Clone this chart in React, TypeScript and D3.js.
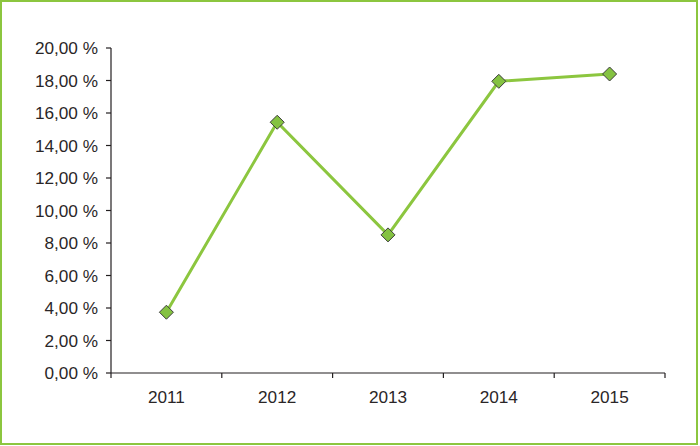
import React from "react";
import * as d3 from "d3";

const years = ["2011", "2012", "2013", "2014", "2015"];
const values = [3.74, 15.43, 8.5, 17.95, 18.4];
const yTicks = [0, 2, 4, 6, 8, 10, 12, 14, 16, 18, 20];

export default function App() {
  const W = 700, H = 446;
  const left = 111, right = 665, top = 48, bottom = 373;
  const x = d3.scaleBand().domain(years).range([left, right]);
  const y = d3.scaleLinear().domain([0, 20]).range([bottom, top]);
  const line = d3
    .line<number>()
    .x((_, i) => (x(years[i]) as number) + x.bandwidth() / 2)
    .y((d) => y(d));
  const font = "'Liberation Sans', Arial, Helvetica, sans-serif";
  const fmt = (v: number) => v.toFixed(2).replace(".", ",") + " %";
  const boundaries = [left, ...years.map((yr) => (x(yr) as number) + x.bandwidth())];
  return (
    <svg width={W} height={H} style={{ position: "absolute", left: 0, top: 0 }}>
      <rect x={1} y={1} width={696} height={443} fill="white" stroke="#8cc63f" strokeWidth={2} />
      <g fontFamily={font} fontSize={17.2} fill="#2a2627">
        {yTicks.map((t) => (
          <g key={t}>
            <line x1={left - 5} x2={left} y1={y(t)} y2={y(t)} stroke="#231f20" strokeWidth={1.2} />
            <text x={98} y={y(t)} dy="0.35em" textAnchor="end">{fmt(t)}</text>
          </g>
        ))}
        <line x1={left} x2={left} y1={top} y2={bottom} stroke="#231f20" strokeWidth={1.2} />
        <line x1={left} x2={right} y1={bottom} y2={bottom} stroke="#231f20" strokeWidth={1.2} />
        {boundaries.map((b, i) => (
          <line key={i} x1={b} x2={b} y1={bottom} y2={bottom + 5} stroke="#231f20" strokeWidth={1.2} />
        ))}
        {years.map((yr) => (
          <text key={yr} x={(x(yr) as number) + x.bandwidth() / 2} y={403} textAnchor="middle">{yr}</text>
        ))}
      </g>
      <path d={line(values) || ""} fill="none" stroke="#8cc63f" strokeWidth={3} />
      {values.map((v, i) => {
        const cx = (x(years[i]) as number) + x.bandwidth() / 2;
        const cy = y(v);
        const r = 7;
        return (
          <path
            key={i}
            d={`M${cx},${cy - r}L${cx + r},${cy}L${cx},${cy + r}L${cx - r},${cy}Z`}
            fill="#84c241"
            stroke="#3d3d3d"
            strokeWidth={1}
          />
        );
      })}
    </svg>
  );
}
